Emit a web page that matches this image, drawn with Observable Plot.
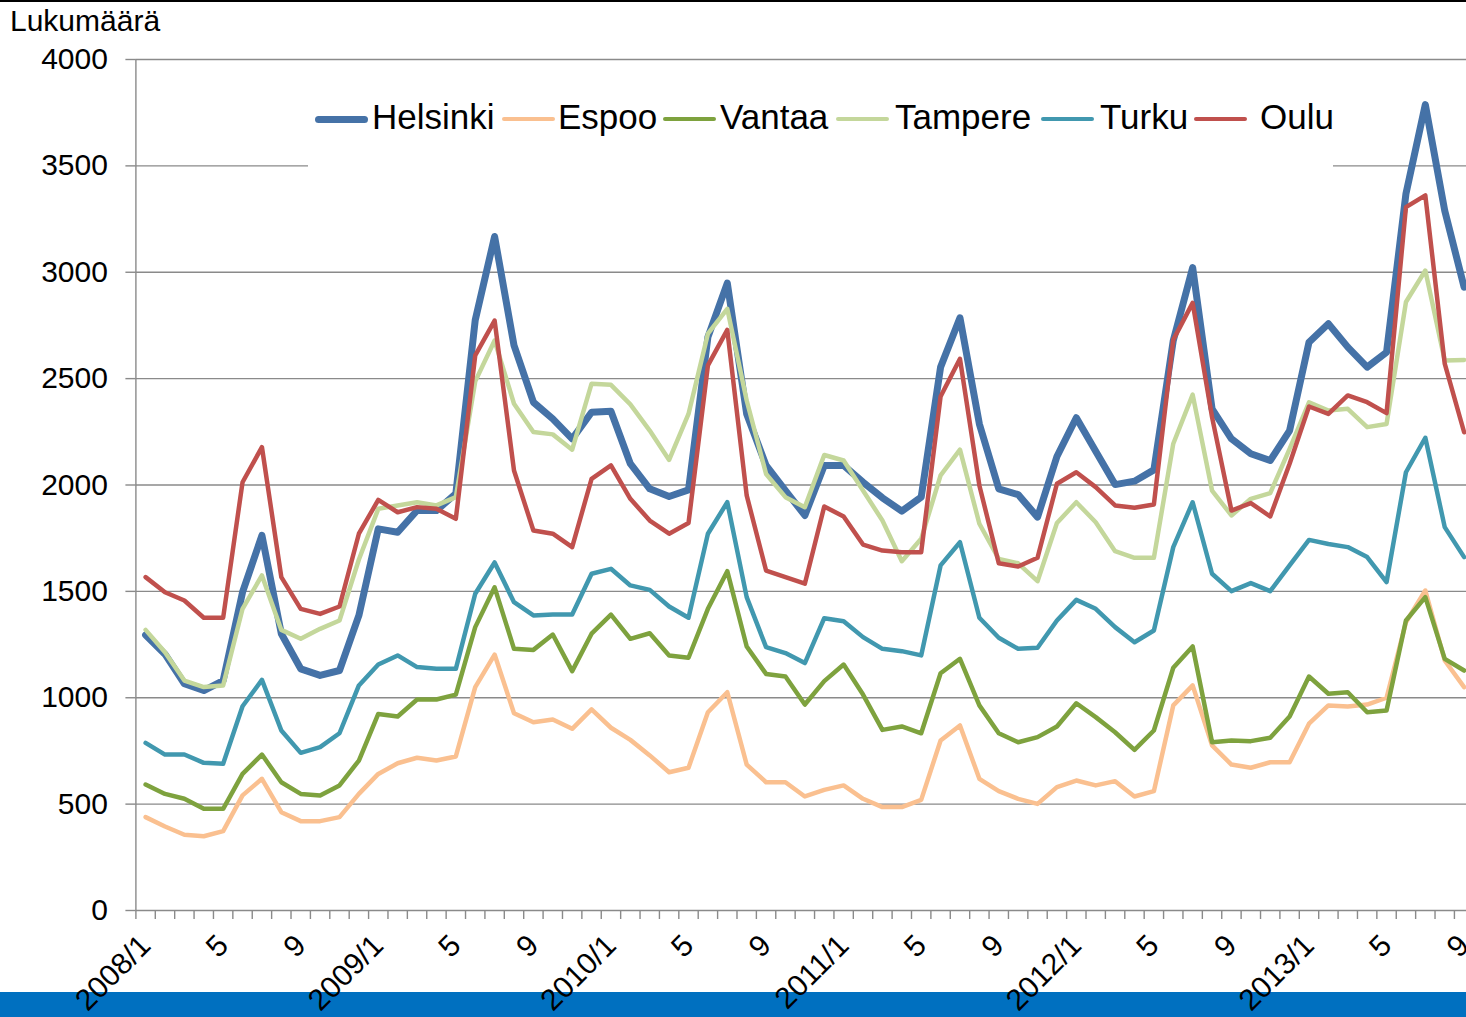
<!DOCTYPE html>
<html>
<head>
<meta charset="utf-8">
<script src="https://cdn.jsdelivr.net/npm/d3@7"></script>
<script src="https://cdn.jsdelivr.net/npm/@observablehq/plot@0.6"></script>
<style>
  html, body { margin: 0; padding: 0; background: #fff; overflow: hidden; }
  #wrap { position: relative; width: 1466px; height: 1017px; font-family: "Liberation Sans", Arial, sans-serif; }
  #topline { position: absolute; left: 0; top: 0; width: 1466px; height: 2px; background: #000; }
  #bar { position: absolute; left: 0; top: 992px; width: 1466px; height: 25px; background: #0070C0; z-index: 0; }
  #chart { position: absolute; left: 0; top: 0; z-index: 1; }
  #title { position: absolute; left: 10px; top: 6px; font-size: 30px; line-height: 1; color: #000; z-index: 2; }
  #legend { position: absolute; left: 308px; top: 64px; width: 1025px; height: 106px; background: #fff; z-index: 2; }
  .swatch { position: absolute; top: 52px; height: 0; border-radius: 4px; }
  .lab { position: absolute; top: 35px; font-size: 35px; line-height: 1; white-space: nowrap; color: #000; }
</style>
</head>
<body>
<div id="wrap">
  <div id="topline"></div>
  <div id="bar"></div>
  <div id="title">Lukumäärä</div>
  <div id="legend"></div>
  <div id="chart"></div>
</div>
<script>
// Categories: months 2008/1 .. 2013/9
const months = [
  "2008/1","2008/2","2008/3","2008/4","2008/5","2008/6","2008/7","2008/8","2008/9","2008/10","2008/11","2008/12",
  "2009/1","2009/2","2009/3","2009/4","2009/5","2009/6","2009/7","2009/8","2009/9","2009/10","2009/11","2009/12",
  "2010/1","2010/2","2010/3","2010/4","2010/5","2010/6","2010/7","2010/8","2010/9","2010/10","2010/11","2010/12",
  "2011/1","2011/2","2011/3","2011/4","2011/5","2011/6","2011/7","2011/8","2011/9","2011/10","2011/11","2011/12",
  "2012/1","2012/2","2012/3","2012/4","2012/5","2012/6","2012/7","2012/8","2012/9","2012/10","2012/11","2012/12",
  "2013/1","2013/2","2013/3","2013/4","2013/5","2013/6","2013/7","2013/8","2013/9"
];
// Tick labels shown on the x axis (every 4th month)
const xTickMonths = ["2008/1","2008/5","2008/9","2009/1","2009/5","2009/9","2010/1","2010/5","2010/9",
  "2011/1","2011/5","2011/9","2012/1","2012/5","2012/9","2013/1","2013/5","2013/9"];
const xTickLabels = ["2008/1","5","9","2009/1","5","9","2010/1","5","9",
  "2011/1","5","9","2012/1","5","9","2013/1","5","9"];
const yTicks = [0, 500, 1000, 1500, 2000, 2500, 3000, 3500, 4000];

const helsinki = [
  1295,1205,1066,1034,1081,1496,1763,1301,1136,1105,1128,1387,
  1794,1778,1880,1880,1959,2775,3168,2656,2389,2311,2217,2342,
  2347,2100,1982,1946,1977,2695,2949,2334,2092,1974,1857,2092,
  2092,2013,1940,1877,1943,2554,2786,2287,1982,1955,1849,2134,
  2316,2159,2002,2018,2071,2679,3022,2358,2217,2147,2115,2256,
  2671,2758,2648,2554,2624,3369,3788,3290,2930
];
const espoo = [
  439,395,356,349,373,541,619,462,420,420,439,548,
  642,692,718,705,724,1050,1203,927,885,898,854,945,
  859,802,729,650,671,932,1026,686,603,603,536,567,
  588,525,486,486,520,799,870,619,561,525,501,580,
  611,588,608,536,561,964,1058,776,686,671,697,697,
  878,964,959,968,1000,1355,1504,1175,1050
];
const vantaa = [
  592,548,525,478,478,642,733,603,548,541,588,705,
  924,912,992,992,1015,1332,1519,1230,1225,1297,1125,1301,
  1391,1277,1303,1199,1188,1418,1595,1241,1112,1100,968,1078,
  1156,1015,849,865,833,1115,1183,964,833,791,815,865,
  974,909,838,755,846,1141,1241,791,799,796,812,912,
  1100,1019,1026,932,940,1363,1473,1183,1128
];
const tampere = [
  1319,1214,1081,1050,1058,1418,1575,1319,1277,1324,1363,1650,
  1888,1904,1919,1904,1943,2487,2679,2382,2249,2238,2166,2476,
  2471,2379,2256,2118,2334,2711,2828,2397,2052,1943,1896,2141,
  2115,1974,1833,1642,1747,2045,2166,1818,1653,1632,1548,1821,
  1919,1825,1689,1658,1658,2194,2425,1974,1857,1935,1962,2170,
  2389,2350,2358,2272,2287,2860,3008,2585,2588
];
const turku = [
  788,733,733,694,690,960,1084,846,741,768,833,1058,
  1156,1199,1144,1136,1136,1489,1636,1449,1387,1391,1391,1583,
  1606,1528,1507,1429,1376,1771,1919,1473,1238,1210,1163,1374,
  1360,1285,1230,1219,1199,1622,1731,1376,1282,1230,1235,1363,
  1460,1418,1332,1261,1316,1708,1919,1583,1501,1539,1501,1622,
  1742,1723,1708,1661,1544,2060,2222,1802,1661
];
const oulu = [
  1567,1496,1457,1376,1376,2013,2178,1567,1418,1394,1429,1771,
  1930,1872,1896,1888,1841,2609,2773,2068,1786,1771,1708,2029,
  2092,1935,1833,1771,1821,2562,2729,1951,1598,1567,1536,1899,
  1852,1720,1692,1684,1684,2416,2593,1998,1632,1617,1658,2006,
  2060,1990,1904,1893,1908,2682,2856,2319,1880,1915,1852,2100,
  2369,2334,2421,2389,2338,3306,3361,2570,2248
];

const seriesNames = ["Helsinki","Espoo","Vantaa","Tampere","Turku","Oulu"];
const seriesValues = [helsinki, espoo, vantaa, tampere, turku, oulu];
const seriesColors = ["#4572A7","#FAC090","#7EA23E","#C4D79B","#4198AF","#C0504D"];
const seriesWidths = [7, 4.5, 4.5, 4.5, 4.5, 4.5];

// Long table for the lines
const rows = [];
seriesNames.forEach((name, s) => {
  seriesValues[s].forEach((v, i) => rows.push({city: name, month: months[i], idx: i, value: v}));
});

const monthIndex = new Map(months.map((m, i) => [m, i]));
const boundaries = months.map((m, i) => i); // category boundaries (tick marks)
const labelPos = xTickMonths.map(m => monthIndex.get(m) + 0.5);
const labelText = new Map(labelPos.map((p, i) => [p, xTickLabels[i]]));

const W = 1466, H = 1017;
const left = 135.4, perMonth = 19.39;
const xMax = (W - left) / perMonth;

const font = "'Liberation Sans', Arial, sans-serif";

const chart = Plot.plot({
  width: W,
  height: H,
  marginTop: 59,
  marginBottom: H - 910,
  marginLeft: left,
  marginRight: 0,
  style: {background: "transparent", fontFamily: font, color: "#000", overflow: "visible"},
  x: {type: "linear", domain: [0, xMax]},
  y: {domain: [0, 4000]},
  marks: [
    Plot.ruleY(yTicks, {stroke: "#8a8a8a", strokeWidth: 1.4}),
    Plot.ruleX([0], {stroke: "#8a8a8a", strokeWidth: 1.4}),
    Plot.axisY({ticks: yTicks, tickSize: 10, tickPadding: 18, fontSize: 30, stroke: "#8a8a8a",
      strokeWidth: 1.4, tickFormat: d => String(d), label: null}),
    Plot.axisX({ticks: boundaries, tickSize: 9, tickFormat: () => "", stroke: "#8a8a8a", strokeWidth: 1.4, label: null}),
    Plot.axisX({ticks: labelPos, tickSize: 0, tickPadding: 30, tickRotate: -45, fontSize: 30,
      tickFormat: d => labelText.get(d), label: null}),
    ...seriesNames.map((name, s) =>
      Plot.line(rows.filter(r => r.city === name), {
        x: d => d.idx + 0.5, y: "value",
        stroke: seriesColors[s], strokeWidth: seriesWidths[s],
        strokeLinejoin: "round", strokeLinecap: "round"
      }))
  ]
});
document.getElementById("chart").appendChild(chart);

// Legend
const legendLineX = [7, 194, 355, 528, 733, 886];
const legendTextX = [64, 250, 412, 587, 792, 952];
const legend = document.getElementById("legend");
seriesNames.forEach((name, s) => {
  const sw = document.createElement("div");
  sw.className = "swatch";
  sw.style.left = legendLineX[s] + "px";
  sw.style.width = "53px";
  sw.style.borderTop = seriesWidths[s] + "px solid " + seriesColors[s];
  sw.style.top = (55 - seriesWidths[s] / 2) + "px";
  legend.appendChild(sw);
  const t = document.createElement("div");
  t.className = "lab";
  t.style.left = legendTextX[s] + "px";
  t.textContent = name;
  legend.appendChild(t);
});
</script>
</body>
</html>
